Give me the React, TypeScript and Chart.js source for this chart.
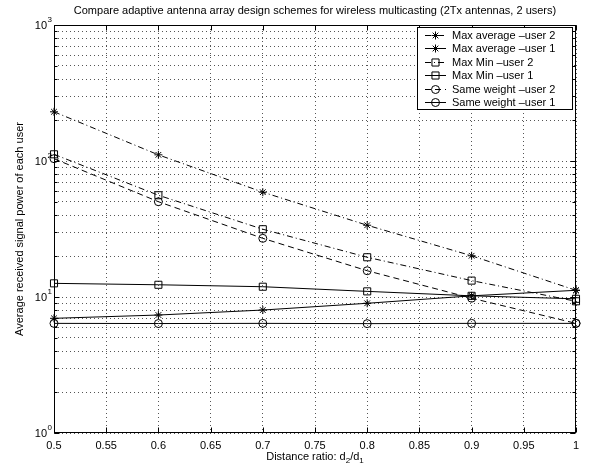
import React, { useEffect, useRef } from 'react';
import { Chart, registerables } from 'chart.js';

Chart.register(...registerables);

// ---- Data ----
const distanceRatio = [0.5, 0.6, 0.7, 0.8, 0.9, 1.0];
const maxAvgUser2 = [230, 111, 59, 33.7, 20.1, 11.2];
const maxAvgUser1 = [6.97, 7.37, 8.02, 8.99, 10.2, 11.2];
const maxMinUser2 = [112, 56, 31.5, 19.6, 13.2, 9.3];
const maxMinUser1 = [12.6, 12.3, 11.9, 11.0, 10.2, 9.7];
const sameWeightUser2 = [104, 50.2, 27, 15.6, 9.8, 6.4];
const sameWeightUser1 = [6.4, 6.38, 6.4, 6.37, 6.4, 6.4];

const seriesLabels = [
  'Max average \u2013user 2',
  'Max average \u2013user 1',
  'Max Min \u2013user 2',
  'Max Min \u2013user 1',
  'Same weight \u2013user 2',
  'Same weight \u2013user 1',
];
const seriesValues = [maxAvgUser2, maxAvgUser1, maxMinUser2, maxMinUser1, sameWeightUser2, sameWeightUser1];
const seriesMarkers = ['star', 'star', 'rect', 'rect', 'circle', 'circle'];
const seriesDash: number[][] = [[6, 3, 1, 3], [], [6, 3, 1, 3], [], [6, 4], []];

const xTicks = [0.5, 0.55, 0.6, 0.65, 0.7, 0.75, 0.8, 0.85, 0.9, 0.95, 1];
const yDecades = [0, 1, 2, 3];

const titleText = 'Compare adaptive antenna array design schemes for wireless multicasting (2Tx antennas, 2 users)';
const yLabelText = 'Average received signal power of each user';

const FONT = '"Liberation Sans", Arial, Helvetica, sans-serif';

function markerRadius(style: string) {
  return style === 'rect' ? 5 : 4;
}

function drawMarker(ctx: CanvasRenderingContext2D, style: string, x: number, y: number, r: number) {
  ctx.beginPath();
  if (style === 'circle') {
    ctx.arc(x, y, r, 0, Math.PI * 2);
  } else if (style === 'rect') {
    const s = r * Math.SQRT1_2;
    ctx.rect(x - s, y - s, 2 * s, 2 * s);
  } else {
    ctx.moveTo(x - r, y); ctx.lineTo(x + r, y);
    ctx.moveTo(x, y - r); ctx.lineTo(x, y + r);
    const d = r * Math.SQRT1_2;
    ctx.moveTo(x - d, y - d); ctx.lineTo(x + d, y + d);
    ctx.moveTo(x - d, y + d); ctx.lineTo(x + d, y - d);
  }
  ctx.stroke();
}

const decorPlugin = {
  id: 'matlabDecor',
  afterDatasetsDraw(chart: any) {
    const { ctx, chartArea: a, scales } = chart;
    ctx.save();
    ctx.strokeStyle = '#000';
    ctx.lineWidth = 1;
    ctx.setLineDash([]);
    // frame
    const L = Math.round(a.left) + 0.5, R = Math.round(a.right) - 0.5;
    const T = Math.round(a.top) + 0.5, B = Math.round(a.bottom) - 0.5;
    ctx.strokeRect(L, T, R - L, B - T);
    // x ticks
    ctx.beginPath();
    for (const v of xTicks) {
      const x = Math.round(scales.x.getPixelForValue(v)) + 0.5;
      ctx.moveTo(x, B); ctx.lineTo(x, B - 5);
      ctx.moveTo(x, T); ctx.lineTo(x, T + 5);
    }
    // y ticks
    for (const e of yDecades) {
      for (let m = 1; m <= 9; m++) {
        const v = m * Math.pow(10, e);
        if (v > 1000) break;
        const y = Math.round(scales.y.getPixelForValue(v)) + 0.5;
        const len = m === 1 ? 5 : 3;
        ctx.moveTo(L, y); ctx.lineTo(L + len, y);
        ctx.moveTo(R, y); ctx.lineTo(R - len, y);
      }
    }
    ctx.stroke();
    ctx.restore();
  },
  afterDraw(chart: any) {
    const { ctx, chartArea: a, scales } = chart;
    ctx.save();
    ctx.fillStyle = '#000';
    const cx = (a.left + a.right) / 2;
    // title
    ctx.font = `11px ${FONT}`;
    ctx.textAlign = 'center';
    ctx.textBaseline = 'middle';
    ctx.fillText(titleText, cx, 11);
    // x label with subscripts
    const parts = [
      { t: 'Distance ratio: d', sub: false },
      { t: '2', sub: true },
      { t: '/d', sub: false },
      { t: '1', sub: true },
    ];
    let total = 0;
    for (const p of parts) {
      ctx.font = p.sub ? `8px ${FONT}` : `11px ${FONT}`;
      total += ctx.measureText(p.t).width;
    }
    let x = cx - total / 2;
    ctx.textAlign = 'left';
    for (const p of parts) {
      ctx.font = p.sub ? `8px ${FONT}` : `11px ${FONT}`;
      ctx.fillText(p.t, x, p.sub ? 461 : 457);
      x += ctx.measureText(p.t).width;
    }
    // y label
    ctx.save();
    ctx.translate(20, (a.top + a.bottom) / 2);
    ctx.rotate(-Math.PI / 2);
    ctx.font = `11px ${FONT}`;
    ctx.textAlign = 'center';
    ctx.fillText(yLabelText, 0, 0);
    ctx.restore();
    // y tick labels 10^e
    for (const e of yDecades) {
      const y = scales.y.getPixelForValue(Math.pow(10, e));
      ctx.font = `11px ${FONT}`;
      ctx.textAlign = 'right';
      ctx.fillText('10', 47, y + 1);
      ctx.font = `8px ${FONT}`;
      ctx.textAlign = 'left';
      ctx.fillText(String(e), 47.5, y - 5);
    }
    // legend
    const lx = 417.5, ly = 27.5, lw = 155, lh = 82;
    ctx.fillStyle = '#fff';
    ctx.fillRect(lx, ly, lw, lh);
    ctx.strokeStyle = '#000';
    ctx.lineWidth = 1;
    ctx.strokeRect(lx, ly, lw, lh);
    ctx.font = `11px ${FONT}`;
    ctx.textAlign = 'left';
    ctx.textBaseline = 'middle';
    chart.data.datasets.forEach((ds: any, i: number) => {
      const yy = Math.round(35 + i * 13.4) + 0.5;
      ctx.strokeStyle = '#000';
      ctx.setLineDash(seriesDash[i]);
      ctx.beginPath();
      ctx.moveTo(425, yy);
      ctx.lineTo(446, yy);
      ctx.stroke();
      ctx.setLineDash([]);
      drawMarker(ctx, seriesMarkers[i], 435.5, yy, markerRadius(seriesMarkers[i]));
      ctx.fillStyle = '#000';
      ctx.fillText(ds.label, 452, yy + 0.5);
    });
    ctx.restore();
  },
};

export default function App() {
  const canvasRef = useRef<HTMLCanvasElement | null>(null);

  useEffect(() => {
    document.body.style.margin = '0';
    const canvas = canvasRef.current;
    if (!canvas) return;
    const datasets = seriesLabels.map((label, i) => ({
      label,
      data: distanceRatio.map((x, j) => ({ x, y: seriesValues[i][j] })),
      borderColor: '#000',
      borderWidth: 1,
      borderDash: seriesDash[i],
      pointStyle: seriesMarkers[i] as any,
      pointRadius: markerRadius(seriesMarkers[i]),
      pointBorderColor: '#000',
      pointBorderWidth: 1,
      pointBackgroundColor: 'rgba(0,0,0,0)',
      fill: false,
      tension: 0,
      clip: false as any,
    }));

    const chart = new Chart(canvas, {
      type: 'line',
      data: { datasets },
      options: {
        animation: false,
        responsive: false,
        devicePixelRatio: 1,
        layout: { padding: { top: 25, right: 13, left: 0, bottom: 0 } },
        plugins: {
          legend: { display: false },
          title: { display: false },
          tooltip: { enabled: false },
        },
        scales: {
          x: {
            type: 'linear',
            min: 0.5,
            max: 1,
            afterBuildTicks: (s: any) => {
              s.ticks = xTicks.map((v) => ({ value: v }));
            },
            afterFit: (s: any) => {
              s.height = 39;
            },
            ticks: {
              color: '#000',
              font: { family: FONT, size: 11 },
              padding: 6,
              maxRotation: 0,
              autoSkip: false,
              callback: (v: any) => String(Number(Number(v).toFixed(2))),
            },
            grid: { color: '#555', lineWidth: 1, drawTicks: false },
            border: { display: false, dash: [1, 3] },
          },
          y: {
            type: 'logarithmic',
            min: 1,
            max: 1000,
            afterBuildTicks: (s: any) => {
              const t: any[] = [];
              for (const e of yDecades) {
                for (let m = 1; m <= 9; m++) {
                  const v = m * Math.pow(10, e);
                  if (v <= 1000) t.push({ value: v });
                }
              }
              s.ticks = t;
            },
            afterFit: (s: any) => {
              s.width = 54;
            },
            ticks: { display: false },
            grid: { color: '#555', lineWidth: 1, drawTicks: false },
            border: { display: false, dash: [1, 3] },
          },
        },
      },
      plugins: [decorPlugin],
    });
    return () => chart.destroy();
  }, []);

  return (
    <div style={{ width: 589, height: 472 }}>
      <canvas ref={canvasRef} width={589} height={472} style={{ display: 'block' }} />
    </div>
  );
}
